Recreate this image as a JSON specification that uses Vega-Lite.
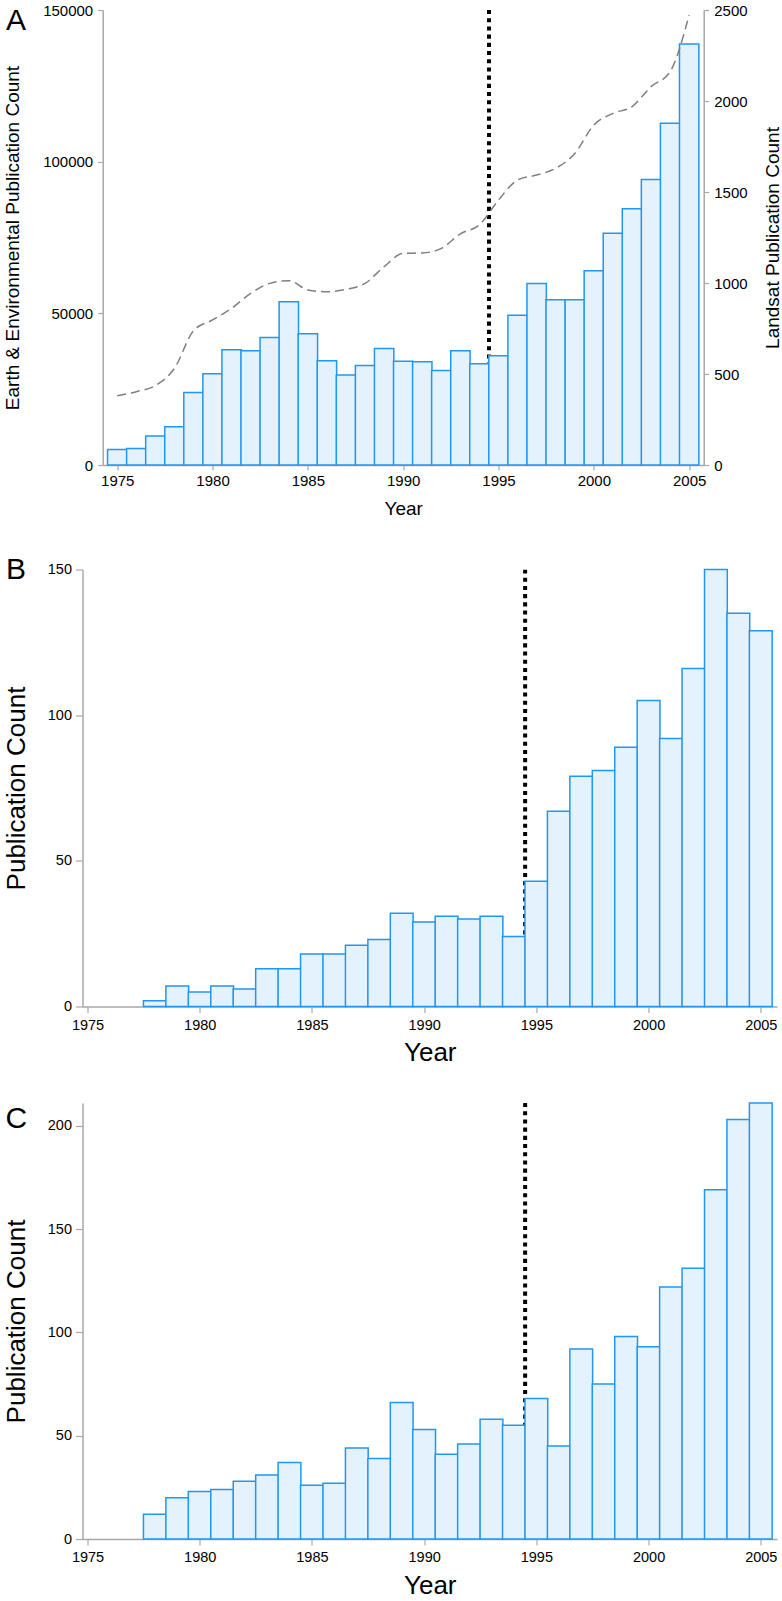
{
  "$schema": "https://vega.github.io/schema/vega-lite/v6.json",
  "padding": {"left": 2.5, "top": 3, "right": 0, "bottom": 0},
  "background": "white",
  "config": {
    "font": "Liberation Sans",
    "view": {"stroke": null},
    "axis": {"domainColor": "#a8a8a8", "tickColor": "#a8a8a8", "labelColor": "#000000", "titleColor": "#000000", "titleFontWeight": "normal", "grid": false, "domainWidth": 1.5, "tickWidth": 1.2, "titleBaseline": "alphabetic"}
  },
  "align": "each",
  "spacing": 36.5,
  "datasets": {
    "panelA": [
      {"year": 1975, "ee": 5150, "landsat": 381},
      {"year": 1976, "ee": 5480, "landsat": 403},
      {"year": 1977, "ee": 9520, "landsat": 436},
      {"year": 1978, "ee": 12580, "landsat": 531},
      {"year": 1979, "ee": 23870, "landsat": 738},
      {"year": 1980, "ee": 30100, "landsat": 797},
      {"year": 1981, "ee": 37980, "landsat": 861},
      {"year": 1982, "ee": 37650, "landsat": 943},
      {"year": 1983, "ee": 42020, "landsat": 998},
      {"year": 1984, "ee": 53840, "landsat": 1013},
      {"year": 1985, "ee": 43230, "landsat": 962},
      {"year": 1986, "ee": 34370, "landsat": 952},
      {"year": 1987, "ee": 29650, "landsat": 965},
      {"year": 1988, "ee": 32830, "landsat": 998},
      {"year": 1989, "ee": 38410, "landsat": 1090},
      {"year": 1990, "ee": 34240, "landsat": 1163},
      {"year": 1991, "ee": 34040, "landsat": 1165},
      {"year": 1992, "ee": 31190, "landsat": 1190},
      {"year": 1993, "ee": 37650, "landsat": 1270},
      {"year": 1994, "ee": 33380, "landsat": 1320},
      {"year": 1995, "ee": 36010, "landsat": 1456},
      {"year": 1996, "ee": 49350, "landsat": 1566},
      {"year": 1997, "ee": 59850, "landsat": 1593},
      {"year": 1998, "ee": 54500, "landsat": 1630},
      {"year": 1999, "ee": 54500, "landsat": 1712},
      {"year": 2000, "ee": 64020, "landsat": 1868},
      {"year": 2001, "ee": 76390, "landsat": 1932},
      {"year": 2002, "ee": 84470, "landsat": 1969},
      {"year": 2003, "ee": 94120, "landsat": 2079},
      {"year": 2004, "ee": 112700, "landsat": 2161},
      {"year": 2005, "ee": 138770, "landsat": 2473}
    ],
    "panelB": [
      {"year": 1978, "count": 2}, {"year": 1979, "count": 7}, {"year": 1980, "count": 5},
      {"year": 1981, "count": 7}, {"year": 1982, "count": 6}, {"year": 1983, "count": 13},
      {"year": 1984, "count": 13}, {"year": 1985, "count": 18}, {"year": 1986, "count": 18},
      {"year": 1987, "count": 21}, {"year": 1988, "count": 23}, {"year": 1989, "count": 32},
      {"year": 1990, "count": 29}, {"year": 1991, "count": 31}, {"year": 1992, "count": 30},
      {"year": 1993, "count": 31}, {"year": 1994, "count": 24}, {"year": 1995, "count": 43},
      {"year": 1996, "count": 67}, {"year": 1997, "count": 79}, {"year": 1998, "count": 81},
      {"year": 1999, "count": 89}, {"year": 2000, "count": 105}, {"year": 2001, "count": 92},
      {"year": 2002, "count": 116}, {"year": 2003, "count": 150}, {"year": 2004, "count": 135},
      {"year": 2005, "count": 129}
    ],
    "panelC": [
      {"year": 1978, "count": 12}, {"year": 1979, "count": 20}, {"year": 1980, "count": 23},
      {"year": 1981, "count": 24}, {"year": 1982, "count": 28}, {"year": 1983, "count": 31},
      {"year": 1984, "count": 37}, {"year": 1985, "count": 26}, {"year": 1986, "count": 27},
      {"year": 1987, "count": 44}, {"year": 1988, "count": 39}, {"year": 1989, "count": 66},
      {"year": 1990, "count": 53}, {"year": 1991, "count": 41}, {"year": 1992, "count": 46},
      {"year": 1993, "count": 58}, {"year": 1994, "count": 55}, {"year": 1995, "count": 68},
      {"year": 1996, "count": 45}, {"year": 1997, "count": 92}, {"year": 1998, "count": 75},
      {"year": 1999, "count": 98}, {"year": 2000, "count": 93}, {"year": 2001, "count": 122},
      {"year": 2002, "count": 131}, {"year": 2003, "count": 169}, {"year": 2004, "count": 203},
      {"year": 2005, "count": 211}
    ],
    "cutoff": [{"cut": 1994.5}]
  },
  "vconcat": [
    {
      "width": 621.2,
      "height": 455,
      "title": {"text": "A", "anchor": "start", "frame": "group", "fontSize": 30, "fontWeight": "normal", "offset": -32.65, "dx": -76.5, "color": "#000000"},
      "layer": [
        {
          "data": {"name": "cutoff"},
          "mark": {"type": "rule", "color": "#000000", "strokeWidth": 4, "strokeDash": [4.1, 4.1], "clip": true},
          "encoding": {
            "x": {"field": "cut", "type": "quantitative", "title": "Year",
                  "scale": {"domain": [1974.5, 2005.5], "nice": false, "zero": false, "range": [20.2, 621.2]},
                  "axis": {"values": [1975, 1980, 1985, 1990, 1995, 2000, 2005], "format": "d", "labelFontSize": 15, "labelPadding": 3.5, "tickSize": 5, "labelFlush": false, "titleFontSize": 19, "titleY": 49, "titleX": 320.7, "titleAlign": "center"}}
          }
        },
        {
          "data": {"name": "panelA"},
          "mark": {"type": "bar", "orient": "vertical", "size": 19.387, "fill": "#e3f2fd", "stroke": "#2196f3", "strokeWidth": 1.5},
          "encoding": {
            "x": {"field": "year", "type": "quantitative", "title": "Year"},
            "y": {"field": "ee", "type": "quantitative", "stack": null,
                  "scale": {"domain": [0, 150000], "nice": false},
                  "axis": {"title": "Earth & Environmental Publication Count", "offset": -20.2, "values": [0, 50000, 100000, 150000], "format": "d", "labelFontSize": 15, "labelPadding": 5, "tickSize": 5, "titleFontSize": 19, "titleX": -84.4}}
          }
        },
        {
          "data": {"name": "panelA"},
          "mark": {"type": "line", "stroke": "#7f7f7f", "strokeWidth": 1.5, "strokeDash": [9, 5], "interpolate": "monotone"},
          "encoding": {
            "x": {"field": "year", "type": "quantitative", "title": "Year"},
            "y": {"field": "landsat", "type": "quantitative",
                  "scale": {"domain": [0, 2500], "nice": false},
                  "axis": {"orient": "right", "title": "Landsat Publication Count", "titleAngle": 270, "values": [0, 500, 1000, 1500, 2000, 2500], "format": "d", "labelFontSize": 15, "labelPadding": 5, "tickSize": 5, "titleFontSize": 19, "titleX": 75}}
          }
        }
      ],
      "resolve": {"scale": {"y": "independent"}}
    },
    {
      "width": 694.5,
      "height": 437,
      "title": {"text": "B", "anchor": "start", "frame": "group", "fontSize": 30, "fontWeight": "normal", "offset": -23.95, "dx": -76.5, "color": "#000000"},
      "layer": [
        {
          "data": {"name": "cutoff"},
          "mark": {"type": "rule", "color": "#000000", "strokeWidth": 4, "strokeDash": [4.1, 4.1], "clip": true},
          "encoding": {
            "x": {"field": "cut", "type": "quantitative", "title": "Year",
                  "scale": {"domain": [1975, 2005.5], "nice": false, "zero": false},
                  "axis": {"values": [1975, 1980, 1985, 1990, 1995, 2000, 2005], "format": "d", "labelFontSize": 14.5, "labelPadding": 5.5, "tickSize": 6, "labelFlush": false, "titleFontSize": 26, "titleY": 54}}
          }
        },
        {
          "data": {"name": "panelB"},
          "mark": {"type": "bar", "orient": "vertical", "size": 22.77, "fill": "#e3f2fd", "stroke": "#2196f3", "strokeWidth": 1.5},
          "encoding": {
            "x": {"field": "year", "type": "quantitative", "title": "Year"},
            "y": {"field": "count", "type": "quantitative", "stack": null,
                  "scale": {"domain": [0, 150], "nice": false},
                  "axis": {"title": "Publication Count", "values": [0, 50, 100, 150], "format": "d", "labelFontSize": 14.5, "labelPadding": 4, "tickSize": 7, "titleFontSize": 26, "titleX": -58.5}}
          }
        }
      ]
    },
    {
      "width": 694.5,
      "height": 436,
      "title": {"text": "C", "anchor": "start", "frame": "group", "fontSize": 30, "fontWeight": "normal", "offset": -31.5, "dx": -77, "color": "#000000"},
      "layer": [
        {
          "data": {"name": "cutoff"},
          "mark": {"type": "rule", "color": "#000000", "strokeWidth": 4, "strokeDash": [4.1, 4.1], "clip": true},
          "encoding": {
            "x": {"field": "cut", "type": "quantitative", "title": "Year",
                  "scale": {"domain": [1975, 2005.5], "nice": false, "zero": false},
                  "axis": {"values": [1975, 1980, 1985, 1990, 1995, 2000, 2005], "format": "d", "labelFontSize": 14.5, "labelPadding": 5.5, "tickSize": 6, "labelFlush": false, "titleFontSize": 26, "titleY": 54}}
          }
        },
        {
          "data": {"name": "panelC"},
          "mark": {"type": "bar", "orient": "vertical", "size": 22.77, "fill": "#e3f2fd", "stroke": "#2196f3", "strokeWidth": 1.5},
          "encoding": {
            "x": {"field": "year", "type": "quantitative", "title": "Year"},
            "y": {"field": "count", "type": "quantitative", "stack": null,
                  "scale": {"domain": [0, 211], "nice": false},
                  "axis": {"title": "Publication Count", "values": [0, 50, 100, 150, 200], "format": "d", "labelFontSize": 14.5, "labelPadding": 4, "tickSize": 7, "titleFontSize": 26, "titleX": -58.5}}
          }
        }
      ]
    }
  ]
}
